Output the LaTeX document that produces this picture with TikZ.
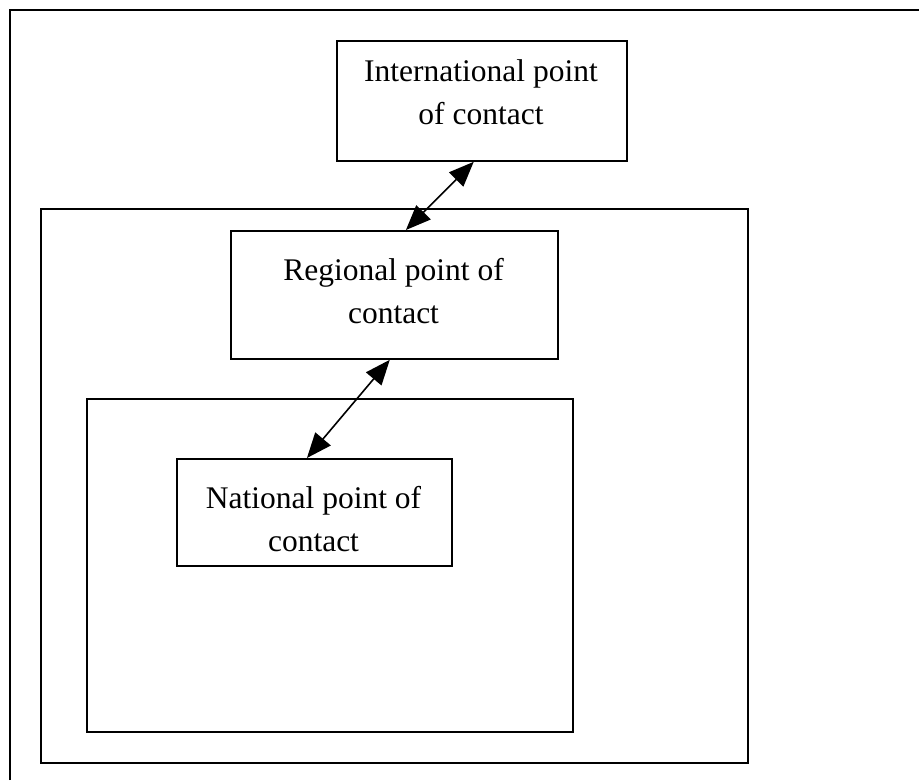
\documentclass[tikz,border=0pt]{standalone}
\usepackage{fontspec}
\setmainfont{Liberation Serif}
\usetikzlibrary{arrows.meta,calc}
\begin{document}
\begin{tikzpicture}[x=1pt,y=-1pt,
  box/.style={draw=black,line width=1.8pt,rectangle,inner sep=0pt,anchor=north west},
  lbl/.style={align=center,inner sep=0pt,font=\fontsize{31.5}{43}\selectfont},
  link/.style={line width=1.6pt,{Triangle[length=25pt,width=20pt]}-{Triangle[length=25pt,width=20pt]}}]
\useasboundingbox (0,0) rectangle (919,780);
% outer frame (top and left edges visible)
\draw[line width=2.6pt] (10,780) -- (10,10) -- (919,10);
% containers
\node[box,minimum width=707pt,minimum height=554pt] (region) at (40,208) {};
\node[box,minimum width=486pt,minimum height=333pt] (nation) at (86,398) {};
% point-of-contact boxes
\node[box,fill=white,minimum width=290pt,minimum height=120pt] (intl) at (336,40) {};
\node[box,fill=white,minimum width=327pt,minimum height=128pt] (reg) at (230,230) {};
\node[box,fill=white,minimum width=275pt,minimum height=107pt] (nat) at (176,458) {};
\node[lbl] (tintl) at (481,92.5) {International point\\of contact};
\node[lbl] (treg) at (393.5,291) {Regional point of\\contact};
\node[lbl] (tnat) at (313.5,519.5) {National point of\\contact};
% connectors
\draw[link] ($(intl.south west)!0.472!(intl.south east)$) -- ($(reg.north west)!0.535!(reg.north east)$);
\draw[link] ($(reg.south west)!0.486!(reg.south east)$) -- ($(nat.north west)!0.473!(nat.north east)$);
\end{tikzpicture}
\end{document}
